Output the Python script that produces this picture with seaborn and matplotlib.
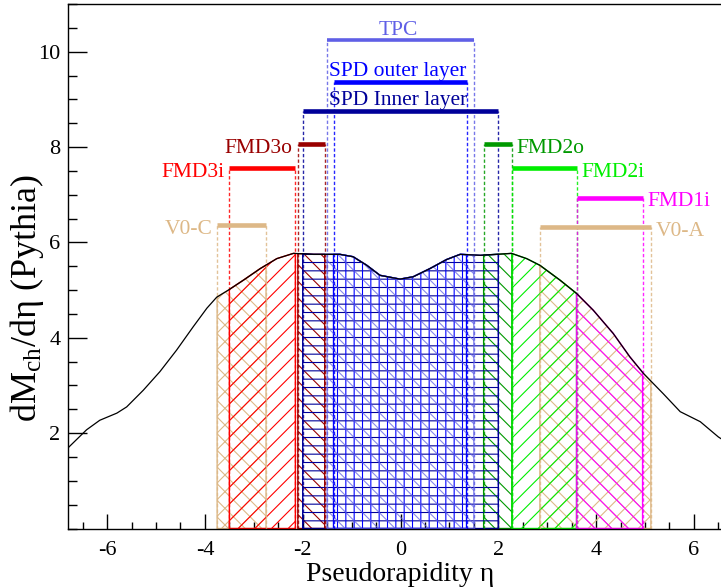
import numpy as np
import matplotlib
matplotlib.use("Agg")
import matplotlib.pyplot as plt
from matplotlib.ticker import MultipleLocator
import seaborn as sns

# ---- data ----
eta = [-6.81, -6.42, -6.15, -5.80, -5.60, -5.26, -4.92, -4.58, -4.24, -3.96,
       -3.76, -3.52, -3.21, -2.87, -2.53, -2.19, -1.78, -1.51, -1.24, -0.97,
       -0.69, -0.42, -0.01, 0.26, 0.60, 0.94, 1.22, 1.63, 1.97, 2.27,
       2.58, 2.85, 3.26, 3.60, 3.94, 4.35, 4.69, 4.97, 5.37, 5.72,
       6.13, 6.50, 6.56]
dndeta = [1.68, 2.07, 2.27, 2.42, 2.55, 2.90, 3.29, 3.74, 4.23, 4.62,
          4.85, 5.00, 5.21, 5.45, 5.66, 5.77, 5.75, 5.75, 5.75, 5.70,
          5.52, 5.31, 5.23, 5.28, 5.45, 5.64, 5.75, 5.73, 5.75, 5.77,
          5.66, 5.52, 5.21, 4.93, 4.58, 4.09, 3.60, 3.25, 2.83, 2.45,
          2.24, 1.92, 1.88]

detectors = ["V0-C", "V0-A", "FMD3i", "FMD3o", "FMD2o", "FMD2i", "FMD1i",
             "SPD Inner layer", "SPD outer layer", "TPC"]
eta_lo = [-3.75, 2.85, -3.50, -2.10, 1.70, 2.28, 3.60, -2.00, -1.37, -1.50]
eta_hi = [-2.75, 5.12, -2.15, -1.55, 2.28, 3.60, 4.95, 2.00, 1.35, 1.50]
bar_level = [6.36, 6.32, 7.56, 8.07, 8.07, 7.56, 6.94, 8.76, 9.37, 10.24]
colors = ["#DDB887", "#DDB887", "#FF0000", "#990000", "#009900", "#00EE00",
          "#FF00FF", "#000099", "#0000FF", "#5F5FE6"]
hatches = ["xx", "xx", "//", "\\\\", "\\\\", "//", "\\\\", "--", "||", "\\\\"]
label_pos = ["left", "right", "left", "left", "right", "right", "right",
             "top", "top", "top"]

x_ticks = [-6, -4, -2, 0, 2, 4, 6]
y_ticks = [2, 4, 6, 8, 10]

# ---- style ----
sns.set_theme(style="white")
plt.rcParams["font.family"] = ["Liberation Serif", "DejaVu Serif"]
plt.rcParams["mathtext.fontset"] = "custom"
plt.rcParams["mathtext.rm"] = "Liberation Serif"
plt.rcParams["mathtext.it"] = "Liberation Serif:italic"
plt.rcParams["hatch.linewidth"] = 0.8
plt.rcParams["axes.unicode_minus"] = False

W, H = 721, 588
fig = plt.figure(figsize=(W / 100, H / 100), dpi=100)
ax_l, ax_r, ax_t, ax_b = 67.5, 721.0, 4.0, 528.5
ax = fig.add_axes([ax_l / W, 1 - ax_b / H, (ax_r - ax_l) / W, (ax_b - ax_t) / H])
ax.set_xlim(-6.81, -6.81 + (ax_r - ax_l) / 48.9)
ax.set_ylim(0, 11)

x_arr = np.asarray(eta)
y_arr = np.asarray(dndeta)

# hatched regions under the curve
for name, lo, hi, c, h in zip(detectors, eta_lo, eta_hi, colors, hatches):
    xs = np.linspace(lo, hi, 300)
    ys = np.interp(xs, x_arr, y_arr)
    alpha = 0.75 if name == "TPC" else 1.0
    ax.fill_between(xs, 0, ys, facecolor="none", edgecolor=c, hatch=h,
                    linewidth=1.0, alpha=alpha, zorder=1)

# dashed verticals from bars down
for lo, hi, lev, c in zip(eta_lo, eta_hi, bar_level, colors):
    ax.vlines([lo, hi], 0, lev, colors=c, linestyles=(0, (2.4, 1.6)),
              linewidth=1.0, alpha=0.85, zorder=2)

# the curve
sns.lineplot(x=x_arr, y=y_arr, color="black", linewidth=0.9, ax=ax, zorder=3)

# bars and labels
for name, lo, hi, lev, c, pos in zip(detectors, eta_lo, eta_hi, bar_level,
                                      colors, label_pos):
    lw = 2.6 if name == "TPC" else 3.3
    ax.hlines(lev, lo, hi, colors=c, linewidth=lw, zorder=4)
    if pos == "left":
        ax.text(lo - 0.1, lev - 0.04, name, color=c, fontsize=15.5,
                ha="right", va="center_baseline", zorder=5)
    elif pos == "right":
        ax.text(hi + 0.1, lev - 0.04, name, color=c, fontsize=15.5,
                ha="left", va="center_baseline", zorder=5)
    else:
        ax.text((lo + hi) / 2 - 0.05, lev + 0.12, name, color=c, fontsize=15.5,
                ha="center", va="baseline", zorder=5)

# axes styling
ax.set_xticks(x_ticks)
ax.set_yticks(y_ticks)
ax.xaxis.set_minor_locator(MultipleLocator(0.5))
ax.yaxis.set_minor_locator(MultipleLocator(0.5))
ax.tick_params(axis="both", which="both", bottom=True, left=True,
               top=False, right=False, direction="in", color="black")
ax.tick_params(axis="x", which="major", length=11, width=1.0,
               labelsize=16, pad=9, labelcolor="black")
ax.tick_params(axis="x", which="minor", length=5, width=1.0)
ax.tick_params(axis="y", which="major", length=13.5, width=1.0,
               labelsize=16, pad=5, labelcolor="black")
ax.tick_params(axis="y", which="minor", length=6.5, width=1.0)
for s in ["left", "bottom", "top"]:
    ax.spines[s].set_visible(True)
    ax.spines[s].set_color("black")
    ax.spines[s].set_linewidth(1.0)
ax.spines["right"].set_visible(False)
ax.grid(False)
ax.set_facecolor("white")

ax.set_xlabel("Pseudorapidity η", fontsize=20, color="black")
ax.set_ylabel("dM$_{\\rm ch}$/dη (Pythia)", fontsize=26, color="black")
ax.xaxis.set_label_coords((400 - ax_l) / (ax_r - ax_l), -(562 - ax_b) / (ax_b - ax_t))
ax.yaxis.set_label_coords(-(ax_l - 46) / (ax_r - ax_l), (ax_b - 298) / (ax_b - ax_t))

fig.savefig("out.png", dpi=100, facecolor="white")
